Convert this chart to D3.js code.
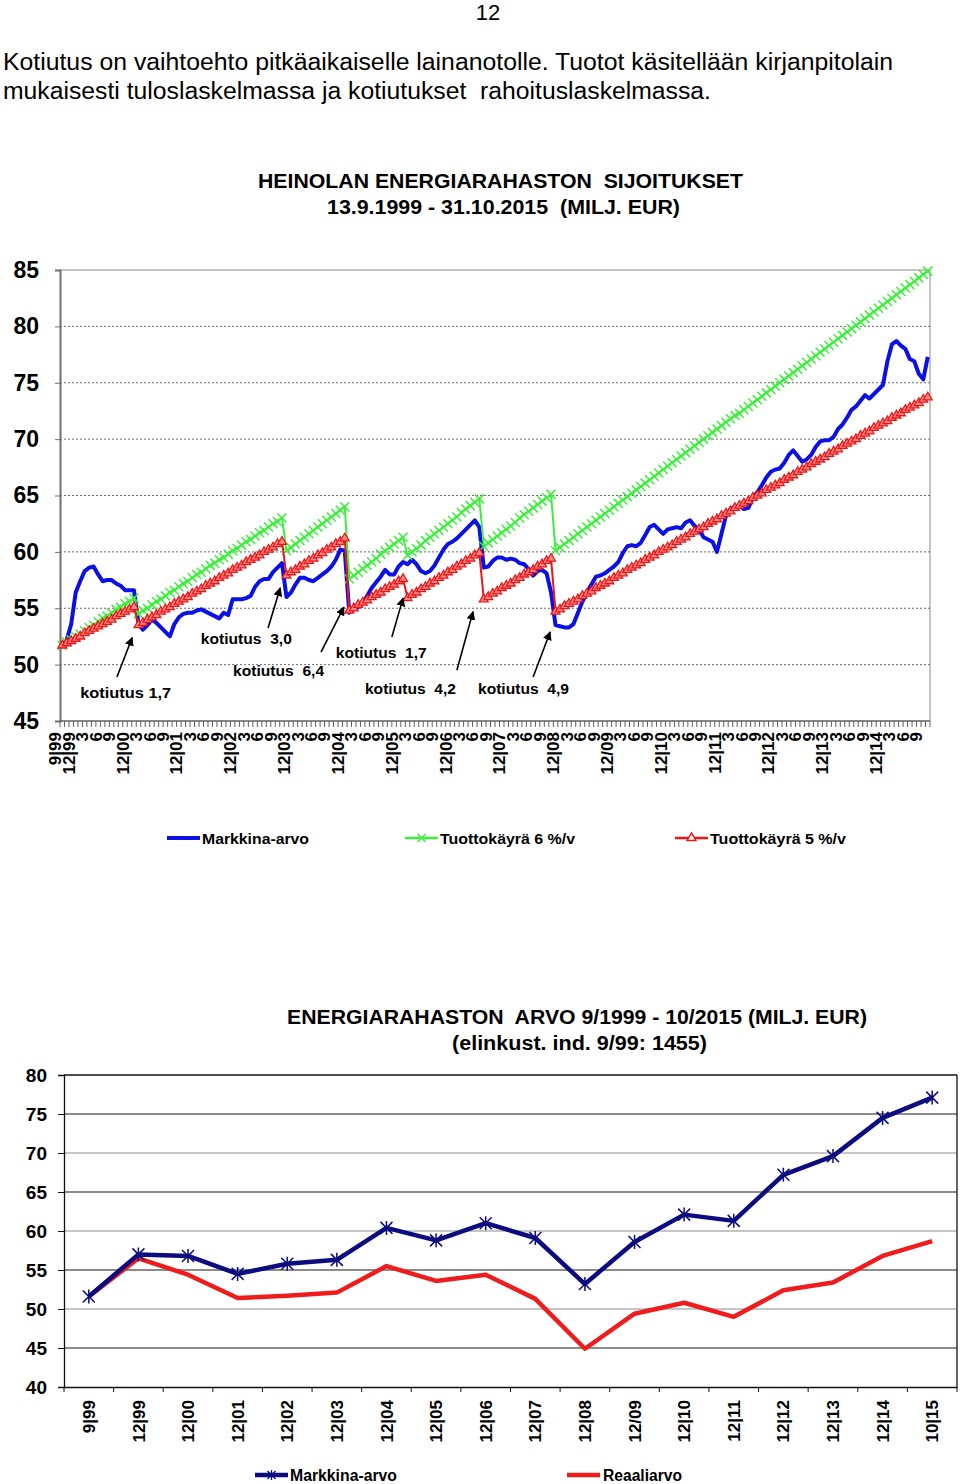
<!DOCTYPE html>
<html><head><meta charset="utf-8">
<script src="https://cdn.jsdelivr.net/npm/d3@7"></script>
<style>
body{margin:0;background:#fff;}
text{font-family:"Liberation Sans",Arial,Helvetica,sans-serif;fill:#000;white-space:pre;}
</style></head><body>
<svg id="chart" width="960" height="1484"></svg>
<script>
// ---------------- DATA ----------------
const pageNumber = "12";
const paragraph = [
  "Kotiutus on vaihtoehto pitkäaikaiselle lainanotolle. Tuotot käsitellään kirjanpitolain",
  "mukaisesti tuloslaskelmassa ja kotiutukset  rahoituslaskelmassa."
];
const topTitle = ["HEINOLAN ENERGIARAHASTON  SIJOITUKSET", "13.9.1999 - 31.10.2015  (MILJ. EUR)"];
const topSeriesNames = ["Markkina-arvo", "Tuottokäyrä 6 %/v", "Tuottokäyrä 5 %/v"];
const topYTicks = [45, 50, 55, 60, 65, 70, 75, 80, 85];
// quarterly tick labels, monthly categories 9/1999 .. 10/2015
const topTickLabels = ["9|99","12|99",
  "3","6","9","12|00","3","6","9","12|01","3","6","9","12|02","3","6","9","12|03",
  "3","6","9","12|04","3","6","9","12|05","3","6","9","12|06","3","6","9","12|07",
  "3","6","9","12|08","3","6","9","12/09","3","6","9","12|10","3","6","9","12|11",
  "3","6","9","12|12","3","6","9","12|13","3","6","9","12|14","3","6","9"];
// Markkina-arvo, monthly (MEUR)
const marketValue = [51.7,52.2,53.6,56.4,57.4,58.3,58.6,58.7,58.0,57.4,
57.5,57.5,57.2,57.0,56.6,56.6,56.6,53.6,53.1,53.5,
54.0,53.7,53.3,52.9,52.5,53.6,54.2,54.5,54.6,54.6,
54.8,54.9,54.7,54.5,54.3,54.1,54.6,54.4,55.8,55.8,
55.8,55.9,56.1,56.9,57.4,57.6,57.6,58.2,58.6,59.0,
56.0,56.4,57.1,57.7,57.7,57.5,57.4,57.7,58.0,58.3,
58.7,59.3,60.2,60.1,54.6,54.9,55.1,55.5,56.1,56.8,
57.3,57.8,58.4,58.0,58.0,58.7,59.1,58.9,59.3,58.9,
58.3,58.1,58.3,58.8,59.5,60.2,60.7,60.9,61.2,61.6,
62.0,62.4,62.8,62.2,58.6,58.7,59.2,59.5,59.5,59.3,
59.4,59.3,59.0,58.9,58.5,57.9,58.3,58.4,58.1,56.4,
53.5,53.4,53.3,53.3,53.6,54.6,55.6,56.4,57.1,57.8,
57.9,58.1,58.4,58.7,59.1,59.9,60.5,60.6,60.5,60.8,
61.5,62.2,62.4,62.0,61.6,62.0,62.1,62.2,62.1,62.6,
62.8,62.3,62.0,61.3,61.1,60.9,60.0,61.6,63.2,63.8,
64.0,64.1,63.8,63.9,64.8,65.3,65.9,66.6,67.1,67.3,
67.4,67.9,68.6,69.0,68.5,68.0,68.2,68.6,69.3,69.8,
69.9,69.9,70.2,70.9,71.3,71.9,72.6,72.9,73.4,73.9,
73.6,74.0,74.4,74.8,76.9,78.4,78.7,78.3,78.0,77.1,
76.9,75.8,75.3,77.3];
// Tuottokäyrä 6 %/v, monthly
const curve6 = [51.7,52.0,52.2,52.5,52.7,53.0,53.3,53.5,53.8,54.1,54.3,54.6,54.9,55.1,55.4,55.6,55.9,
54.5,54.8,55.0,55.3,55.6,55.8,56.1,56.4,56.6,56.9,57.2,57.4,57.7,58.0,58.2,58.5,58.8,59.0,59.3,59.5,59.8,60.1,60.3,60.6,60.9,61.1,61.4,61.7,61.9,62.2,62.5,62.7,63.0,
60.1,60.4,60.7,61.0,61.3,61.6,61.9,62.2,62.5,62.8,63.1,63.4,63.7,64.0,
57.6,57.9,58.2,58.5,58.8,59.1,59.4,59.8,60.1,60.4,60.7,61.0,61.3,
59.7,60.0,60.3,60.6,61.0,61.3,61.6,61.9,62.2,62.5,62.8,63.1,63.5,63.8,64.1,64.4,64.7,
60.5,60.8,61.1,61.4,61.7,62.0,62.3,62.6,63.0,63.3,63.6,63.9,64.2,64.5,64.8,65.1,
60.1,60.4,60.7,61.0,61.3,61.6,61.9,62.2,62.5,62.8,63.1,63.4,63.7,64.0,64.3,64.6,64.9,65.2,65.5,65.8,
66.1,66.4,66.7,67.0,67.3,67.6,67.9,68.2,68.5,68.8,69.1,69.4,69.7,70.0,70.3,70.6,70.9,71.2,71.5,71.8,
72.1,72.3,72.6,72.9,73.2,73.5,73.8,74.1,74.4,74.7,75.0,75.3,75.6,75.9,76.2,76.5,76.8,77.1,77.4,77.7,
78.0,78.3,78.6,78.9,79.2,79.5,79.8,80.1,80.4,80.7,81.0,81.3,81.6,81.9,82.2,82.5,82.8,83.1,83.4,83.7,
84.0,84.3,84.6,84.9];
// Tuottokäyrä 5 %/v, monthly
const curve5 = [51.7,51.9,52.1,52.3,52.5,52.8,53.0,53.2,53.4,53.6,53.8,54.0,54.3,54.5,54.7,54.9,55.1,
53.5,53.7,54.0,54.2,54.4,54.7,54.9,55.1,55.4,55.6,55.8,56.0,56.3,56.5,56.7,57.0,57.2,57.4,57.7,57.9,58.1,58.4,58.6,58.8,59.1,59.3,59.5,59.7,60.0,60.2,60.4,60.7,60.9,
57.9,58.2,58.4,58.7,58.9,59.2,59.4,59.7,59.9,60.2,60.4,60.7,60.9,61.2,
54.8,55.0,55.3,55.5,55.7,56.0,56.2,56.4,56.7,56.9,57.1,57.4,57.6,
55.9,56.2,56.4,56.7,56.9,57.2,57.4,57.7,57.9,58.2,58.4,58.7,58.9,59.2,59.4,59.7,59.9,
55.8,56.0,56.3,56.5,56.8,57.0,57.2,57.5,57.7,58.0,58.2,58.4,58.7,58.9,59.2,59.4,
54.7,54.9,55.2,55.4,55.6,55.8,56.1,56.3,56.5,56.8,57.0,57.2,57.4,57.7,57.9,58.1,58.4,58.6,58.8,59.0,
59.3,59.5,59.7,60.0,60.2,60.4,60.6,60.9,61.1,61.3,61.6,61.8,62.0,62.2,62.5,62.7,62.9,63.2,63.4,63.6,
63.9,64.1,64.3,64.5,64.8,65.0,65.2,65.5,65.7,65.9,66.1,66.4,66.6,66.8,67.1,67.3,67.5,67.8,68.0,68.2,
68.4,68.7,68.9,69.1,69.4,69.6,69.8,70.0,70.3,70.5,70.7,71.0,71.2,71.4,71.6,71.9,72.1,72.3,72.6,72.8,
73.0,73.2,73.5,73.7];
// annotations in data units (month index, MEUR)
const annotations = [
  {text:"kotiutus 1,7",  m:4.0,  v:47.0, tailM:12.2, tailV:48.9, headM:15.6, headV:52.4},
  {text:"kotiutus  3,0", m:30.9, v:51.8, tailM:45.9, tailV:53.25, headM:48.6, headV:56.8},
  {text:"kotiutus  6,4", m:38.1, v:49.0, tailM:57.7, tailV:51.1, headM:62.8, headV:55.1},
  {text:"kotiutus  1,7", m:61.0, v:50.6, tailM:73.5, tailV:52.45, headM:76.0, headV:55.9},
  {text:"kotiutus  4,2", m:67.5, v:47.4, tailM:88.0, tailV:49.5, headM:91.6, headV:54.7},
  {text:"kotiutus  4,9", m:92.7, v:47.4, tailM:105.0, tailV:48.9, headM:108.8, headV:52.9}
];

const bottomTitle = ["ENERGIARAHASTON  ARVO 9/1999 - 10/2015 (MILJ. EUR)", "(elinkust. ind. 9/99: 1455)"];
const bottomCategories = ["9|99","12|99","12|00","12|01","12|02","12|03","12|04","12|05","12|06",
  "12|07","12|08","12/09","12|10","12|11","12|12","12|13","12|14","10|15"];
const bottomMarket = [51.6,57.0,56.8,54.5,55.8,56.3,60.4,58.8,61.0,59.1,53.2,58.6,62.1,61.3,67.2,69.6,74.5,77.1];
const bottomReal   = [51.6,56.5,54.4,51.4,51.7,52.1,55.5,53.6,54.4,51.3,44.9,49.4,50.8,49.0,52.4,53.4,56.8,58.7];
const bottomYTicks = [40,45,50,55,60,65,70,75,80];
const bottomSeriesNames = ["Markkina-arvo", "Reaaliarvo"];

// ---------------- DRAW ----------------
const svg = d3.select("#chart");
svg.append("rect").attr("width",960).attr("height",1484).attr("fill","#fff");

svg.append("text").attr("x",488).attr("y",20).attr("text-anchor","middle")
  .attr("font-size",22).text(pageNumber);
const paraW = [890, 708];
svg.selectAll("text.para").data(paragraph).join("text").attr("class","para")
  .attr("x",3).attr("y",(d,i)=>70+i*29).attr("font-size",23)
  .attr("textLength",(d,i)=>paraW[i]).attr("lengthAdjust","spacingAndGlyphs").text(d=>d);

// ===== TOP CHART =====
const BLUE="#0a10e6", GREEN="#3df03d", RED="#f01414";
const xT = d3.scaleLinear().domain([-0.5, marketValue.length-0.5]).range([60,930]);
const yT = d3.scaleLinear().domain([45,85]).range([721,270]);

const topTitleW = [485, 353];
svg.selectAll("text.tt").data(topTitle).join("text").attr("class","tt")
  .attr("x",(d,i)=>i===0?258:327).attr("y",(d,i)=>188+i*26)
  .attr("font-size",20).attr("font-weight","bold")
  .attr("textLength",(d,i)=>topTitleW[i]).attr("lengthAdjust","spacingAndGlyphs").text(d=>d);

const gT = svg.append("g");
// gridlines
gT.selectAll("line.grid").data(topYTicks.filter(v=>v>45 && v<85)).join("line")
  .attr("x1",60).attr("x2",930).attr("y1",d=>yT(d)).attr("y2",d=>yT(d))
  .attr("stroke","#6a6a6a").attr("stroke-width",1).attr("stroke-dasharray","2,2");
// plot frame (top, right)
gT.append("line").attr("x1",60).attr("x2",930).attr("y1",yT(85)).attr("y2",yT(85)).attr("stroke","#8a8a8a");
gT.append("line").attr("x1",930).attr("x2",930).attr("y1",yT(85)).attr("y2",yT(45)).attr("stroke","#8a8a8a");

// y axis
const yAxisT = d3.axisLeft(yT).tickValues(topYTicks).tickSize(5).tickPadding(16);
const yg = gT.append("g").attr("transform","translate(60,0)").call(yAxisT);
yg.select(".domain").attr("stroke","#707070").attr("stroke-width",2);
yg.selectAll(".tick line").attr("stroke","#707070");
yg.selectAll(".tick text").attr("font-size",23).attr("font-weight","bold")
  .attr("font-family",'"Liberation Sans",Arial,sans-serif').attr("fill","#000");

// x axis (category boundaries as ticks)
gT.append("line").attr("x1",60).attr("x2",930).attr("y1",yT(45)).attr("y2",yT(45))
  .attr("stroke","#606060").attr("stroke-width",1.5);
gT.selectAll("line.xt").data(d3.range(marketValue.length+1)).join("line").attr("class","xt")
  .attr("x1",d=>xT(d-0.5)).attr("x2",d=>xT(d-0.5)).attr("y1",yT(45)).attr("y2",yT(45)+6)
  .attr("stroke","#606060").attr("stroke-width",1);
gT.selectAll("text.xl").data(topTickLabels).join("text").attr("class","xl")
  .attr("transform",(d,i)=>`translate(${xT(i*3)-7},${yT(45)+11}) rotate(-90)`)
  .attr("text-anchor","end").attr("dy","0.36em")
  .attr("font-size",17).attr("font-weight","bold").text(d=>d);

// series
const lineT = d3.line().x((d,i)=>xT(i)).y(d=>yT(d));
gT.append("path").datum(marketValue).attr("d",lineT).attr("fill","none")
  .attr("stroke",BLUE).attr("stroke-width",4).attr("stroke-linejoin","round");
gT.append("path").datum(curve6).attr("d",lineT).attr("fill","none")
  .attr("stroke",GREEN).attr("stroke-width",2);
const xMark = 4.5;
gT.selectAll("path.m6").data(curve6).join("path").attr("class","m6")
  .attr("d",(d,i)=>{const x=xT(i),y=yT(d);return `M${x-xMark},${y-xMark}L${x+xMark},${y+xMark}M${x-xMark},${y+xMark}L${x+xMark},${y-xMark}`;})
  .attr("stroke",GREEN).attr("stroke-width",1.5).attr("fill","none");
gT.append("path").datum(curve5).attr("d",lineT).attr("fill","none")
  .attr("stroke",RED).attr("stroke-width",2);
const tri = d3.symbol().type(d3.symbolTriangle).size(34);
gT.selectAll("path.m5").data(curve5).join("path").attr("class","m5")
  .attr("transform",(d,i)=>`translate(${xT(i)},${yT(d)})`).attr("d",tri)
  .attr("fill","#ff8c8c").attr("stroke",RED).attr("stroke-width",1.3);

// annotations
svg.append("defs").append("marker").attr("id","arrow").attr("viewBox","0 0 10 10")
  .attr("refX",9).attr("refY",5).attr("markerWidth",9).attr("markerHeight",9)
  .attr("markerUnits","userSpaceOnUse").attr("orient","auto")
  .append("path").attr("d","M0,0L10,5L0,10z").attr("fill","#000");
gT.selectAll("line.arr").data(annotations).join("line").attr("class","arr")
  .attr("x1",d=>xT(d.tailM)).attr("y1",d=>yT(d.tailV))
  .attr("x2",d=>xT(d.headM)).attr("y2",d=>yT(d.headV))
  .attr("stroke","#000").attr("stroke-width",1.6).attr("marker-end","url(#arrow)");
gT.selectAll("text.ann").data(annotations).join("text").attr("class","ann")
  .attr("x",d=>xT(d.m)).attr("y",d=>yT(d.v)).attr("font-size",15.5).attr("font-weight","bold")
  .attr("textLength",91).attr("lengthAdjust","spacingAndGlyphs").text(d=>d.text);

// legend top
const lgT = svg.append("g").attr("transform","translate(0,838)");
const lgItems = [{x:167,name:topSeriesNames[0],c:BLUE,w:4,mk:null,tw:107},
                 {x:405,name:topSeriesNames[1],c:GREEN,w:2.5,mk:"x",tw:135},
                 {x:675,name:topSeriesNames[2],c:RED,w:2.5,mk:"t",tw:136}];
lgItems.forEach(it=>{
  lgT.append("line").attr("x1",it.x).attr("x2",it.x+33).attr("y1",0).attr("y2",0)
    .attr("stroke",it.c).attr("stroke-width",it.w);
  const cx = it.x+16.5;
  if(it.mk==="x") lgT.append("path").attr("d",`M${cx-4},-4L${cx+4},4M${cx-4},4L${cx+4},-4`).attr("stroke",it.c).attr("stroke-width",1.4);
  if(it.mk==="t") lgT.append("path").attr("transform",`translate(${cx},0)`).attr("d",tri).attr("fill","#fff").attr("stroke",it.c).attr("stroke-width",1.4);
  lgT.append("text").attr("x",it.x+35).attr("y",5.5).attr("font-size",15.5).attr("font-weight","bold")
    .attr("textLength",it.tw).attr("lengthAdjust","spacingAndGlyphs").text(it.name);
});

// ===== BOTTOM CHART =====
const NAVY="#0c0c80", RED2="#ee1c1c";
const xB = d3.scaleBand().domain(bottomCategories).range([64,957]);
const xBc = d => xB(d)+xB.bandwidth()/2;
const yB = d3.scaleLinear().domain([40,80]).range([1387,1075]);

const botTitleW = [580, 255];
svg.selectAll("text.bt").data(bottomTitle).join("text").attr("class","bt")
  .attr("x",(d,i)=>i===0?287:452).attr("y",(d,i)=>1024+i*26)
  .attr("font-size",20).attr("font-weight","bold")
  .attr("textLength",(d,i)=>botTitleW[i]).attr("lengthAdjust","spacingAndGlyphs").text(d=>d);

const gB = svg.append("g");
gB.selectAll("line.gb").data(bottomYTicks.filter(v=>v>40 && v<80)).join("line").attr("class","gb")
  .attr("x1",64).attr("x2",957).attr("y1",d=>yB(d)).attr("y2",d=>yB(d))
  .attr("stroke",d=>(d%10===5)?"#1a1a1a":"#8c8c8c").attr("stroke-width",1.2);
gB.append("line").attr("x1",64).attr("x2",957).attr("y1",yB(80)).attr("y2",yB(80)).attr("stroke","#111").attr("stroke-width",1.3);
gB.append("line").attr("x1",957).attr("x2",957).attr("y1",yB(80)).attr("y2",yB(40)).attr("stroke","#111").attr("stroke-width",1.3);

const yAxisB = d3.axisLeft(yB).tickValues(bottomYTicks).tickSize(6).tickPadding(11);
const ygB = gB.append("g").attr("transform","translate(64,0)").call(yAxisB);
ygB.select(".domain").attr("stroke","#111").attr("stroke-width",1.3);
ygB.selectAll(".tick line").attr("stroke","#111");
ygB.selectAll(".tick text").attr("font-size",19).attr("font-weight","bold")
  .attr("font-family",'"Liberation Sans",Arial,sans-serif').attr("fill","#000");

const xAxisB = d3.axisBottom(xB).tickSize(0).tickFormat("");
gB.append("g").attr("transform",`translate(0,${yB(40)})`).call(xAxisB)
  .select(".domain").attr("stroke","#111").attr("stroke-width",1.3);
gB.selectAll("line.xtb").data(d3.range(bottomCategories.length+1)).join("line").attr("class","xtb")
  .attr("x1",d=>64+d*xB.step()).attr("x2",d=>64+d*xB.step())
  .attr("y1",yB(40)).attr("y2",yB(40)+5).attr("stroke","#111");
gB.selectAll("text.xlb").data(bottomCategories).join("text").attr("class","xlb")
  .attr("transform",d=>`translate(${xBc(d)},${yB(40)+13}) rotate(-90)`)
  .attr("text-anchor","end").attr("dy","0.36em")
  .attr("font-size",17).attr("font-weight","bold").text(d=>d);

const lineB = d3.line().x((d,i)=>xBc(bottomCategories[i])).y(d=>yB(d));
gB.append("path").datum(bottomReal).attr("d",lineB).attr("fill","none")
  .attr("stroke",RED2).attr("stroke-width",4.5).attr("stroke-linejoin","round");
gB.append("path").datum(bottomMarket).attr("d",lineB).attr("fill","none")
  .attr("stroke",NAVY).attr("stroke-width",4.5).attr("stroke-linejoin","round");
const starPath = (x,y,r)=>`M${x-r},${y-r}L${x+r},${y+r}M${x-r},${y+r}L${x+r},${y-r}M${x},${y-r-1}L${x},${y+r+1}`;
gB.selectAll("path.st").data(bottomMarket).join("path").attr("class","st")
  .attr("d",(d,i)=>starPath(xBc(bottomCategories[i]),yB(d),6))
  .attr("stroke",NAVY).attr("stroke-width",1.5).attr("fill","none");

// legend bottom
const lgB = svg.append("g").attr("transform","translate(0,1475)");
lgB.append("line").attr("x1",255).attr("x2",288).attr("y1",0).attr("y2",0).attr("stroke",NAVY).attr("stroke-width",4.5);
lgB.append("path").attr("d",starPath(271.5,0,4)).attr("stroke",NAVY).attr("stroke-width",1.3);
lgB.append("text").attr("x",290).attr("y",6).attr("font-size",16).attr("font-weight","bold")
  .attr("textLength",107).attr("lengthAdjust","spacingAndGlyphs").text(bottomSeriesNames[0]);
lgB.append("line").attr("x1",567).attr("x2",600).attr("y1",0).attr("y2",0).attr("stroke",RED2).attr("stroke-width",4.5);
lgB.append("text").attr("x",603).attr("y",6).attr("font-size",16).attr("font-weight","bold")
  .attr("textLength",79).attr("lengthAdjust","spacingAndGlyphs").text(bottomSeriesNames[1]);
</script>
</body></html>
